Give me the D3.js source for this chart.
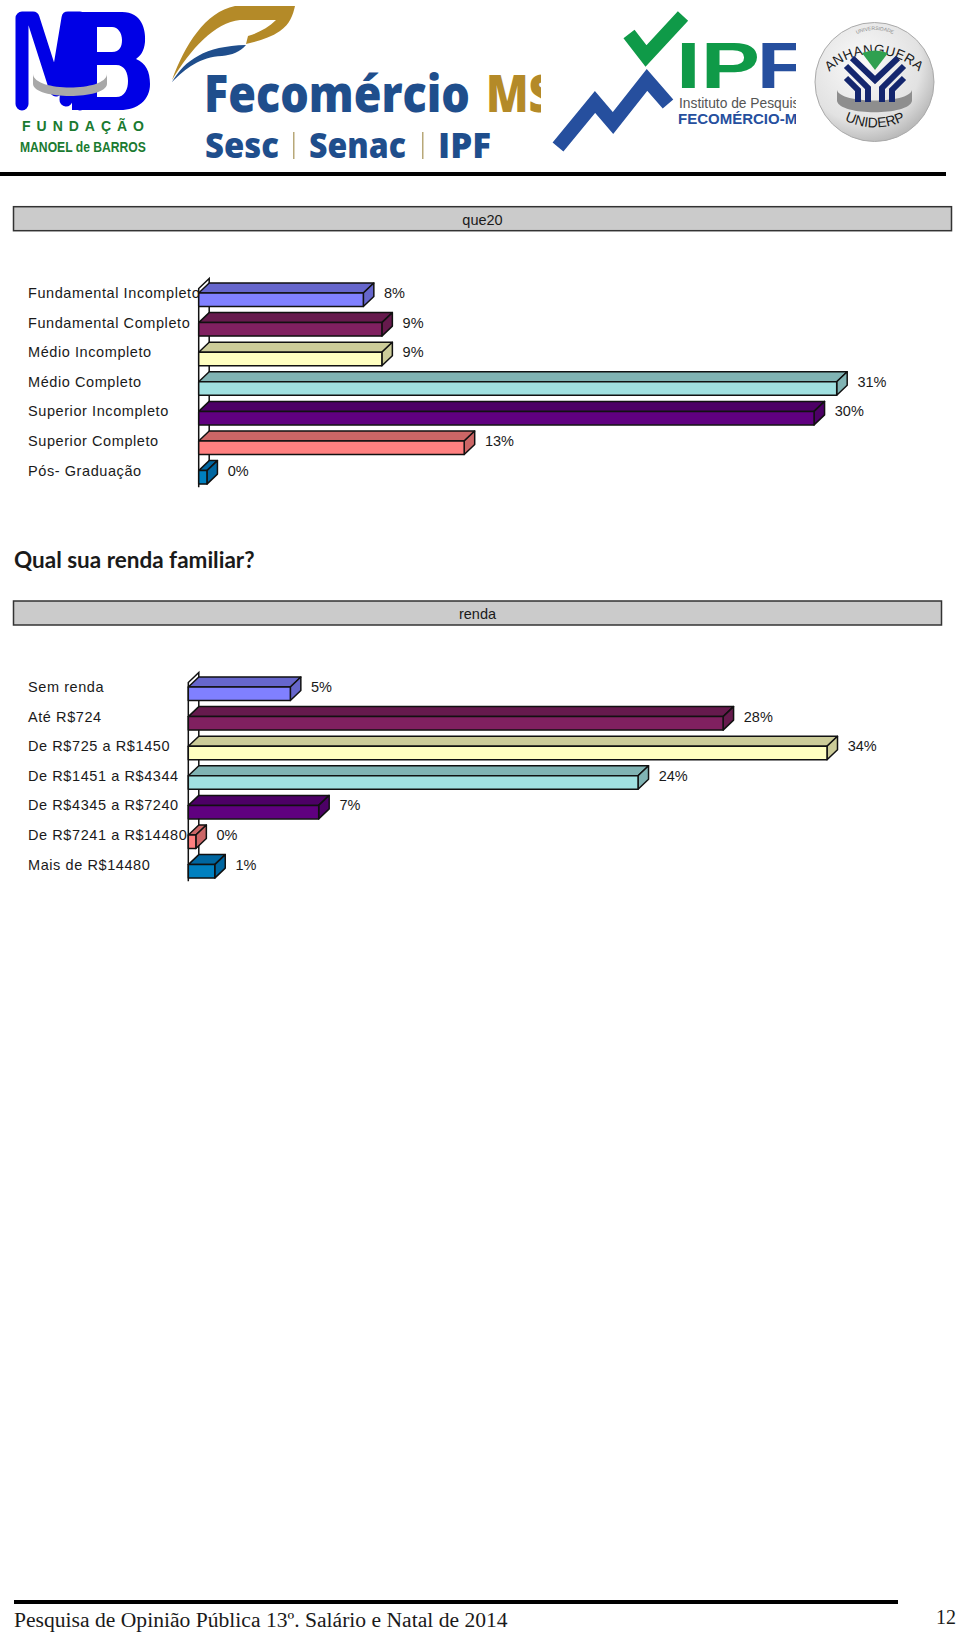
<!DOCTYPE html>
<html>
<head>
<meta charset="utf-8">
<script src="https://cdn.jsdelivr.net/npm/d3@7"></script>
<style>
  html, body { margin: 0; padding: 0; background: #fff; }
  svg { display: block; }
  text { font-family: "Liberation Sans", Arial, sans-serif; fill: #1a1a1a; }
</style>
</head>
<body>
<svg id="page" width="960" height="1634"></svg>
<script>
const escolaridadeLabels = ["Fundamental Incompleto", "Fundamental Completo", "Médio Incompleto", "Médio Completo", "Superior Incompleto", "Superior Completo", "Pós- Graduação"];
const escolaridadeValues = [8.0, 8.9, 8.9, 31.0, 29.9, 12.9, 0.4];

const rendaLabels = ["Sem renda", "Até R$724", "De R$725 a R$1450", "De R$1451 a R$4344", "De R$4345 a R$7240", "De R$7241 a R$14480", "Mais de R$14480"];
const rendaValues = [5.4, 28.3, 33.8, 23.8, 6.9, 0.4, 1.4];

const frontColors = ["#8080ff", "#802060", "#ffffc0", "#a0e0e0", "#600080", "#ff8080", "#0080c0"];
const topColors = ["#6666cc", "#661a4d", "#cccc99", "#80b3b3", "#4d0066", "#cc6666", "#0066a0"];

const svg = d3.select("#page");

// one grey title box + 3d bar block
const renderBars = (o) => {
  const depthX = 10.5, depthY = 10, rowStep = 29.6, barH = 13.5;

  svg.append("rect")
    .attr("x", 13.5).attr("y", o.boxY)
    .attr("width", o.boxW).attr("height", 24)
    .attr("fill", "#cbcbcb").attr("stroke", "#333").attr("stroke-width", 1.5);
  svg.append("text")
    .attr("x", 13.5 + o.boxW / 2).attr("y", o.boxY + 18)
    .attr("text-anchor", "middle").attr("font-size", 14.5)
    .text(o.title);

  const x = d3.scaleLinear().domain([0, o.max]).range([o.x0, o.x1]);
  const y = d3.scaleBand()
    .domain(o.labels)
    .range([o.top, o.top + rowStep * o.labels.length]);

  const g = svg.append("g");
  const wallTop = y(o.labels[0]) + 3.5;
  const wallBottom = y(o.labels[o.labels.length - 1]) + rowStep - 5;

  // left wall
  g.append("path")
    .attr("d", `M${o.x0},${wallBottom}V${wallTop}l${depthX},${-depthY}V${wallBottom - depthY}`)
    .attr("fill", "#fff").attr("stroke", "#111").attr("stroke-width", 1.5);

  const bars = g.selectAll("g.bar")
    .data(o.values)
    .join("g")
    .attr("class", "bar");

  const rowY = (i) => y(o.labels[i]) + 8;
  const stroke = (sel) => sel.attr("stroke", "#111").attr("stroke-width", 1.5).attr("stroke-linejoin", "round");

  bars.append("path") // top
    .attr("d", (d, i) => `M${x(0)},${rowY(i)}l${depthX},${-depthY}H${x(d) + depthX}l${-depthX},${depthY}Z`)
    .attr("fill", (d, i) => topColors[i])
    .call(stroke);
  bars.append("path") // side
    .attr("d", (d, i) => `M${x(d)},${rowY(i)}l${depthX},${-depthY}v${barH}l${-depthX},${depthY}Z`)
    .attr("fill", (d, i) => topColors[i])
    .call(stroke);
  bars.append("rect") // front
    .attr("x", x(0)).attr("y", (d, i) => rowY(i))
    .attr("width", (d) => x(d) - x(0)).attr("height", barH)
    .attr("fill", (d, i) => frontColors[i])
    .call(stroke);

  bars.append("text")
    .attr("x", (d) => x(d) + 20.7)
    .attr("y", (d, i) => rowY(i) + 5)
    .attr("font-size", 14.5)
    .text((d) => Math.round(d) + "%");

  g.selectAll("text.cat")
    .data(o.labels)
    .join("text")
    .attr("class", "cat")
    .attr("x", 28)
    .attr("y", (d) => y(d) + 13)
    .attr("font-size", 14.5)
    .attr("letter-spacing", 0.58)
    .text((d) => d);
};

renderBars({
  title: "que20", boxY: 206.7, boxW: 938,
  labels: escolaridadeLabels, values: escolaridadeValues,
  x0: 198.7, x1: 836.7, max: 31, top: 285
});

svg.append("text")
  .attr("x", 14).attr("y", 568)
  .attr("font-size", 22.5).attr("font-weight", 700)
  .style("font-family", "Lato, sans-serif")
  .text("Qual sua renda familiar?");

renderBars({
  title: "renda", boxY: 601, boxW: 928,
  labels: rendaLabels, values: rendaValues,
  x0: 188.3, x1: 827, max: 33.8, top: 679
});

// rules
svg.append("rect").attr("x", 0).attr("y", 172).attr("width", 946).attr("height", 4).attr("fill", "#000");
svg.append("rect").attr("x", 14).attr("y", 1600).attr("width", 884).attr("height", 4).attr("fill", "#000");

// footer
svg.append("text")
  .attr("x", 14).attr("y", 1627)
  .attr("font-size", 21.6)
  .style("font-family", "Liberation Serif, serif")
  .text("Pesquisa de Opinião Pública 13º. Salário e Natal de 2014");
svg.append("text")
  .attr("x", 936).attr("y", 1624)
  .attr("font-size", 20)
  .style("font-family", "Liberation Serif, serif")
  .text("12");

// logos -----------------------------------------------------------
const defs = svg.append("defs");
defs.append("clipPath").attr("id", "clipFeco").append("rect").attr("x", 160).attr("y", 0).attr("width", 381).attr("height", 170);
defs.append("clipPath").attr("id", "clipIpf").append("rect").attr("x", 540).attr("y", 0).attr("width", 256).attr("height", 170);
const grad = defs.append("radialGradient").attr("id", "badge").attr("cx", "40%").attr("cy", "35%").attr("r", "75%");
grad.append("stop").attr("offset", "0%").attr("stop-color", "#fafafa");
grad.append("stop").attr("offset", "65%").attr("stop-color", "#e2e2e2");
grad.append("stop").attr("offset", "100%").attr("stop-color", "#a8a8a8");
defs.append("path").attr("id", "arcTop").attr("d", "M822,80A65,65 0 0 1 926,80");
defs.append("path").attr("id", "arcTop2").attr("d", "M846,40Q875,20 904,40");
defs.append("path").attr("id", "arcBottom").attr("d", "M838,117Q875,138 912,117");

// squeezes a logo word to a given width
const fitText = (parent, label, px, py, size, len, weight, color, family) => {
  const t = parent.append("text")
    .attr("font-size", size).attr("font-weight", weight)
    .style("font-family", family)
    .style("fill", color)
    .text(label);
  const k = len / t.node().getComputedTextLength();
  t.attr("transform", `translate(${px},${py}) scale(${k},1)`);
  return t;
};
const sans = "Liberation Sans, sans-serif";
const open = "Open Sans, sans-serif";

// Fundacao Manoel de Barros
const mb = svg.append("g");
mb.append("path")
  .attr("d", "M22,104V18H33L56,90L68,18H80V104M66,100L70,40")
  .attr("fill", "none").attr("stroke", "#0000e6").attr("stroke-width", 13).attr("stroke-linejoin", "round").attr("stroke-linecap", "round");
mb.append("path")
  .attr("fill", "#0000e6").attr("fill-rule", "evenodd")
  .attr("d", "M72,12H122C142,12 146,30 145,42C144,52 140,56 136,59C146,63 150,72 150,84C150,100 138,110 120,110H72ZM97,27V52H112C120,52 122,46 122,40C122,33 118,27 112,27ZM97,65V97H116C125,97 128,89 128,81C128,73 125,65 116,65Z");
mb.append("path")
  .attr("d", "M33,74C34,92 106,92 107,74V84C106,100 34,100 33,84Z")
  .attr("fill", "#a8a8a8");
mb.append("text").attr("x", 22).attr("y", 131)
  .attr("font-size", 14).attr("font-weight", 700)
  .attr("textLength", 122)
  .style("fill", "#1a7a30").text("FUNDAÇÃO");
fitText(mb, "MANOEL de BARROS", 20, 152, 14, 126, 700, "#1a7a30", sans);

// Fecomercio
const feco = svg.append("g").attr("clip-path", "url(#clipFeco)");
feco.append("path")
  .attr("d", "M172,80C185,45 205,12 235,6H295C293,15 290,24 280,31C270,38 258,41 246,44L248,36C258,33 268,28 276,20L240,20C215,22 190,50 172,80Z")
  .attr("fill", "#b48a28");
feco.append("path")
  .attr("d", "M172,82C185,60 205,46 246,45C240,52 232,55 222,56C200,57 186,68 172,82Z")
  .attr("fill", "#1f4e8c");

fitText(feco, "Fecomércio", 204, 112, 51, 266, 800, "#1f4e8c", open);
fitText(feco, "MS", 486, 112, 51, 68, 800, "#b48a28", open);
fitText(feco, "Sesc", 205, 158, 36, 74, 800, "#1f4e8c", open);
fitText(feco, "Senac", 309, 158, 36, 97, 800, "#1f4e8c", open);
fitText(feco, "IPF", 438, 158, 36, 53, 800, "#1f4e8c", open);
feco.append("rect").attr("x", 293).attr("y", 132).attr("width", 1.5).attr("height", 27).attr("fill", "#b8a878");
feco.append("rect").attr("x", 422).attr("y", 132).attr("width", 1.5).attr("height", 27).attr("fill", "#b8a878");

// IPF
const ipf = svg.append("g").attr("clip-path", "url(#clipIpf)");
ipf.append("path")
  .attr("d", "M629,34L646,56L683,16")
  .attr("fill", "none").attr("stroke", "#0f9a48").attr("stroke-width", 14).attr("stroke-miterlimit", 6);
ipf.append("path")
  .attr("d", "M558,147L595,102L613,123L647,80L668,104")
  .attr("fill", "none").attr("stroke", "#264f9e").attr("stroke-width", 14).attr("stroke-miterlimit", 6);
fitText(ipf, "IP", 676, 88, 64, 84, 700, "#0f9a48", sans);
fitText(ipf, "F", 757, 88, 64, 50, 700, "#264f9e", sans);
ipf.append("text").attr("x", 679).attr("y", 108)
  .attr("font-size", 13.8).style("fill", "#555").text("Instituto de Pesquisa");
ipf.append("text").attr("x", 678).attr("y", 124)
  .attr("font-size", 15).attr("font-weight", 700)
  .style("fill", "#264f9e").text("FECOMÉRCIO-MS");

// Anhanguera Uniderp
const badge = svg.append("g");
badge.append("circle").attr("cx", 874.5).attr("cy", 82).attr("r", 59.5).attr("fill", "url(#badge)").attr("stroke", "#aaa");
badge.append("text").attr("font-size", 13.5).attr("letter-spacing", 0.3)
  .append("textPath").attr("href", "#arcTop").attr("startOffset", "50%").attr("text-anchor", "middle").text("ANHANGUERA");
badge.append("text").attr("font-size", 5).style("fill", "#888")
  .append("textPath").attr("href", "#arcTop2").attr("startOffset", "50%").attr("text-anchor", "middle").text("UNIVERSIDADE");
badge.append("path")
  .attr("d", "M837,90C840,104 909,104 912,90V101C909,116 840,116 837,101Z")
  .attr("fill", "#8e8e8e");
badge.append("path").attr("d", "M862,53Q875,48 888,53L875,70Z").attr("fill", "#2fa050");
badge.append("path")
  .attr("d", "M852,58L875,80L898,58M846,66L868,88V102M904,66L882,88V102M846,78L858,90V102M904,78L892,90V102")
  .attr("fill", "none").attr("stroke", "#14266e").attr("stroke-width", 6);
badge.append("text").attr("font-size", 14)
  .append("textPath").attr("href", "#arcBottom").attr("startOffset", "50%").attr("text-anchor", "middle").text("UNIDERP");
</script>
</body>
</html>
